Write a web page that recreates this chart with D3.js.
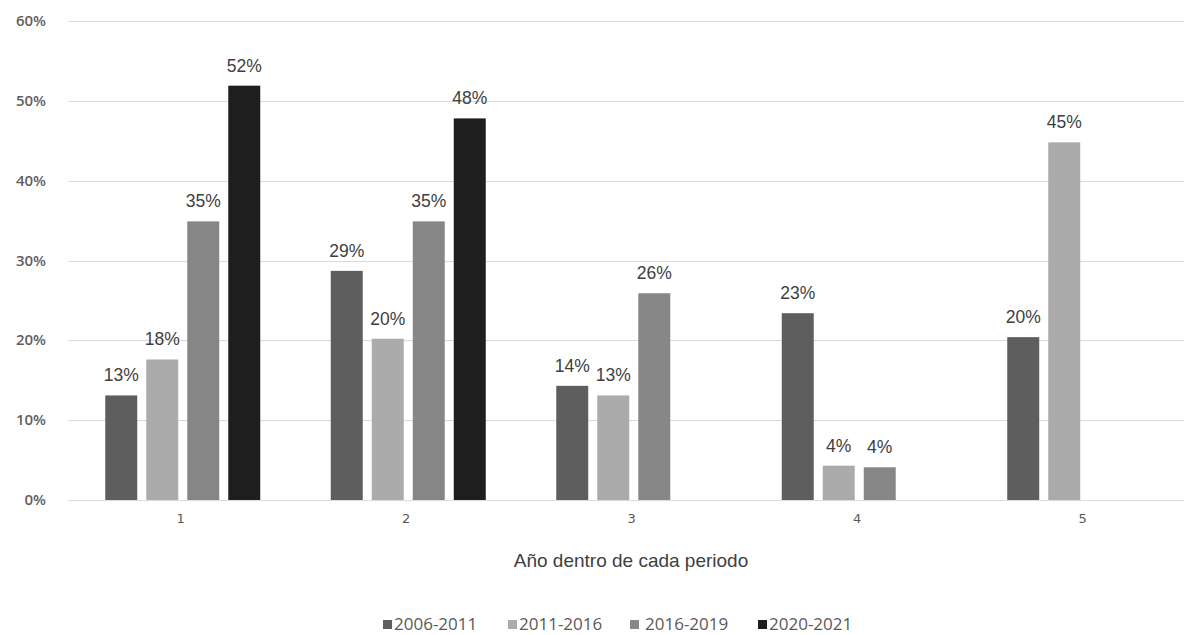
<!DOCTYPE html>
<html>
<head>
<meta charset="utf-8">
<script src="https://cdn.jsdelivr.net/npm/d3@7"></script>
<style>
  body { margin: 0; background: #fff; }
  svg { display: block; }
</style>
</head>
<body>
<svg width="1184" height="635"></svg>
<script>
// Chart data
var years = ["1", "2", "3", "4", "5"];
var series = ["2006-2011", "2011-2016", "2016-2019", "2020-2021"];
var colors = ["#5e5e5e", "#ababab", "#878787", "#1e1e1e"];

// Values per series, in order of years (null = no bar)
var v2006 = [0.131, 0.287, 0.143, 0.234, 0.204];
var v2011 = [0.176, 0.202, 0.131, 0.043, 0.448];
var v2016 = [0.349, 0.349, 0.259, 0.041, null];
var v2020 = [0.519, 0.478, null, null, null];
var values = [v2006, v2011, v2016, v2020];

var yTicks = [0, 0.1, 0.2, 0.3, 0.4, 0.5, 0.6];

var svg = d3.select("svg");

// Scales
var x0 = d3.scaleBand().domain(years).range([70, 1197.5]);
var x1 = d3.scaleBand().domain(series).range([0, 155]).paddingInner(0.22);
var y = d3.scaleLinear().domain([0, 0.6]).range([500, 21]);
var color = d3.scaleOrdinal().domain(series).range(colors);
var pct = d3.format(".0%");

// Gridlines
svg.append("g")
  .selectAll("line")
  .data(yTicks)
  .join("line")
  .attr("x1", 68)
  .attr("x2", 1184)
  .attr("y1", function(d) { return Math.round(y(d)) + 0.5; })
  .attr("y2", function(d) { return Math.round(y(d)) + 0.5; })
  .attr("stroke", "#dadada")
  .attr("stroke-width", 1.2);

// Y axis labels
svg.append("g")
  .selectAll("text")
  .data(yTicks)
  .join("text")
  .attr("x", 46)
  .attr("y", function(d) { return y(d) + 5; })
  .attr("text-anchor", "end")
  .attr("font-family", "Open Sans, sans-serif")
  .attr("font-weight", 600)
  .attr("font-size", 15)
  .attr("fill", "#5f5f5f")
  .text(pct);

// Bars + value labels
var offset = (x0.bandwidth() - 155) / 2;
series.forEach(function(s, i) {
  var data = years.map(function(yr, j) { return {year: yr, value: values[i][j]}; })
    .filter(function(d) { return d.value !== null; });

  svg.append("g")
    .selectAll("rect")
    .data(data)
    .join("rect")
    .attr("x", function(d) { return x0(d.year) + offset + x1(s); })
    .attr("y", function(d) { return y(d.value); })
    .attr("width", x1.bandwidth())
    .attr("height", function(d) { return y(0) - y(d.value); })
    .attr("fill", color(s));

  svg.append("g")
    .selectAll("text")
    .data(data)
    .join("text")
    .attr("x", function(d) { return x0(d.year) + offset + x1(s) + x1.bandwidth() / 2; })
    .attr("y", function(d) { return y(d.value) - 14; })
    .attr("text-anchor", "middle")
    .attr("font-family", "Liberation Sans, Arial, sans-serif")
    .attr("font-size", 17.5)
    .attr("fill", "#404040")
    .text(function(d) { return pct(d.value); });
});

// X axis labels
svg.append("g")
  .selectAll("text")
  .data(years)
  .join("text")
  .attr("x", function(d) { return x0(d) + x0.bandwidth() / 2 - 2; })
  .attr("y", 523)
  .attr("text-anchor", "middle")
  .attr("font-family", "DejaVu Sans, sans-serif")
  .attr("font-size", 13)
  .attr("fill", "#595959")
  .text(function(d) { return d; });

// X axis title
svg.append("text")
  .attr("x", 631)
  .attr("y", 567)
  .attr("text-anchor", "middle")
  .attr("font-family", "Liberation Sans, Arial, sans-serif")
  .attr("font-size", 19)
  .attr("fill", "#404040")
  .text("Año dentro de cada periodo");

// Legend
var legendX = [383, 508, 630, 758];
var legend = svg.append("g")
  .selectAll("g")
  .data(series)
  .join("g")
  .attr("transform", function(d, i) { return "translate(" + legendX[i] + ",620)"; });

legend.append("rect")
  .attr("width", 9)
  .attr("height", 9)
  .attr("fill", function(d) { return color(d); });

legend.append("text")
  .attr("x", function(d, i) { return i === 2 ? 15 : 11; })
  .attr("y", 10)
  .attr("font-family", "Open Sans, sans-serif")
  .attr("font-size", 17)
  .attr("fill", "#595959")
  .text(function(d) { return d; });
</script>
</body>
</html>
